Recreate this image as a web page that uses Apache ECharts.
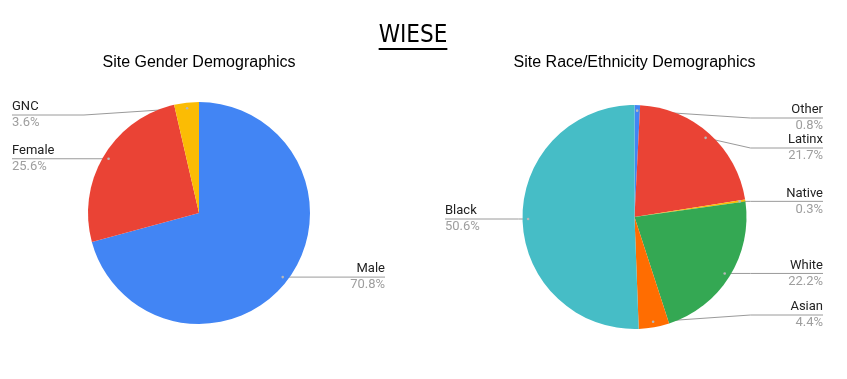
<!DOCTYPE html>
<html>
<head>
<meta charset="utf-8">
<script src="https://cdn.jsdelivr.net/npm/echarts@6/dist/echarts.min.js"></script>
<style>
  html, body { margin: 0; padding: 0; background: #fff; }
  #chart { width: 847px; height: 379px; }
</style>
</head>
<body>
<div id="chart"></div>
<script>
// Site demographics (percent of participants)
const genderNames = ['Male', 'Female', 'GNC'];
const genderValues = [70.8, 25.6, 3.6];
const genderColors = ['#4285F4', '#EA4335', '#FBBC04'];

const raceNames = ['Other', 'Latinx', 'Native', 'White', 'Asian', 'Black'];
const raceValues = [0.8, 21.7, 0.3, 22.2, 4.4, 50.6];
const raceColors = ['#4285F4', '#EA4335', '#FBBC04', '#34A853', '#FF6D01', '#46BDC6'];

const mainTitle = 'WIESE';
const chartTitles = ['Site Gender Demographics', 'Site Race/Ethnicity Demographics'];

// Pie geometry: centre, radius and the left/right edges that labels align to
const PIES = [
  { cx: 199, cy: 213, r: 111, left: 12, right: 385 },
  { cx: 634.5, cy: 217, r: 112, left: 445, right: 823 }
];
const SERIES = [
  { names: genderNames, values: genderValues, colors: genderColors },
  { names: raceNames, values: raceValues, colors: raceColors }
];

// Label placement in the style of spreadsheet pie charts: a leader line from a
// point inside the slice running horizontally underneath the category name.
function computeLabels(values, L) {
  const total = values.reduce((a, b) => a + b, 0);
  let acc = 0;
  const items = values.map((v, i) => {
    const mid = (acc + v / 2) / total * Math.PI * 2;
    acc += v;
    const s = Math.sin(mid), c = Math.cos(mid);
    const ax = L.cx + 0.95 * L.r * s;
    const ay = L.cy - 0.95 * L.r * c;
    return { i, ax, ay, y: ay, right: s >= 0 };
  });
  const top = L.cy - L.r + 13, bottom = L.cy + L.r - 14, gap = 30;
  [true, false].forEach(side => {
    const list = items.filter(d => d.right === side).sort((a, b) => a.ay - b.ay);
    let prev = -Infinity;
    list.forEach(d => {
      d.y = Math.max(d.y, top, prev + gap);
      prev = d.y;
    });
    let next = Infinity;
    for (let k = list.length - 1; k >= 0; k--) {
      const d = list[k];
      d.y = Math.min(d.y, bottom, next - gap);
      next = d.y;
    }
  });
  return items;
}
const LABELS = SERIES.map((s, k) => computeLabels(s.values, PIES[k]));

const chart = echarts.init(document.getElementById('chart'), null, { renderer: 'canvas' });

function makeSeries(k) {
  const S = SERIES[k], L = PIES[k];
  return {
    type: 'pie',
    center: [L.cx, L.cy],
    radius: [0, L.r],
    startAngle: 90,
    clockwise: true,
    avoidLabelOverlap: false,
    silent: true,
    itemStyle: { borderWidth: 0 },
    data: S.names.map((n, i) => ({
      name: n,
      value: S.values[i],
      itemStyle: { color: S.colors[i] }
    })),
    label: {
      show: true,
      position: 'outside',
      formatter: p => '{n|' + p.name + '}\n{p|' + p.value.toFixed(1) + '%}',
      rich: {
        n: { color: '#222222', fontSize: 13, lineHeight: 16, fontFamily: 'Roboto' },
        p: { color: '#9e9e9e', fontSize: 13, lineHeight: 16, fontFamily: 'Roboto' }
      }
    },
    labelLine: {
      show: true,
      smooth: false,
      lineStyle: { color: '#9a9a9a', width: 1 }
    },
    labelLayout: params => {
      const d = LABELS[k][params.dataIndex];
      const edgeX = d.right ? L.right : L.left;
      const elbowX = d.right ? L.cx + L.r + 4 : L.cx - L.r - 4;
      return {
        x: edgeX,
        y: d.y,
        align: d.right ? 'right' : 'left',
        verticalAlign: 'middle',
        labelLinePoints: [[d.ax, d.ay], [elbowX, d.y], [edgeX, d.y]]
      };
    }
  };
}

// Underlined heading
const titleFont = '24px "Liberation Sans Narrow", "DejaVu Sans Condensed", "Liberation Sans", sans-serif';
const ctx = document.createElement('canvas').getContext('2d');
ctx.font = titleFont;
const titleW = ctx.measureText(mainTitle).width;
const titleX = 413;

// Small dots where each leader line starts
const anchorDots = [];
LABELS.forEach(list => list.forEach(d => {
  anchorDots.push({
    type: 'circle',
    shape: { cx: d.ax, cy: d.ay, r: 1.3 },
    style: { fill: '#b8b8b8' },
    z: 100
  });
}));

chart.setOption({
  animation: false,
  backgroundColor: '#ffffff',
  title: chartTitles.map((t, k) => ({
    text: t,
    left: PIES[k].cx,
    top: 55,
    padding: 0,
    textAlign: 'center',
    textStyle: { fontFamily: '"Liberation Sans", Arial, sans-serif', fontSize: 16, fontWeight: 'normal', color: '#000000' }
  })),
  graphic: [
    {
      type: 'text',
      x: titleX,
      y: 24,
      style: { text: mainTitle, font: titleFont, fill: '#000000', textAlign: 'center', textVerticalAlign: 'top' }
    },
    {
      type: 'line',
      shape: { x1: titleX - titleW / 2, y1: 49, x2: titleX + titleW / 2, y2: 49 },
      style: { stroke: '#000000', lineWidth: 2 }
    }
  ].concat(anchorDots),
  series: [makeSeries(0), makeSeries(1)]
});
</script>
</body>
</html>
